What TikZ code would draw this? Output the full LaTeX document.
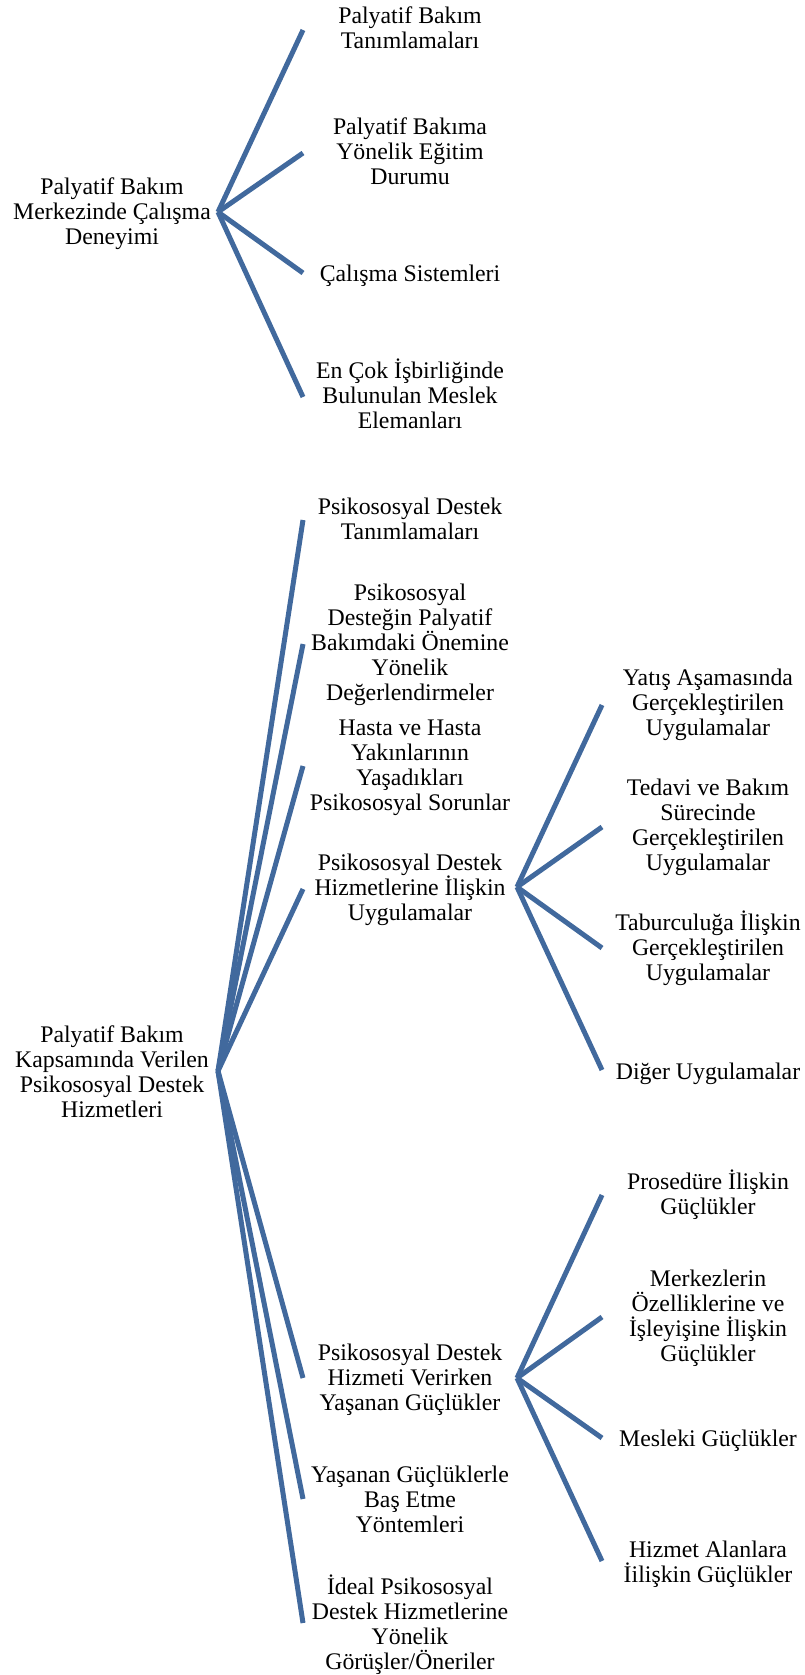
\documentclass[tikz,border=0pt]{standalone}
\usepackage{fontspec}
\setmainfont{Liberation Serif}
\definecolor{branch}{HTML}{41699D}
\begin{document}
\begin{tikzpicture}[x=1pt,y=-1pt,
  lbl/.style={align=center,anchor=base,inner sep=0pt,font=\fontsize{23.8}{25}\selectfont},
  conn/.style={draw=branch,line width=5pt,line cap=butt}]
\useasboundingbox (0,0) rectangle (804,1675);
% anchor=base is the baseline of the LAST line of each label
% ---- tree 1
\node[lbl] (root1) at (112,244) {Palyatif Bakım\\Merkezinde Çalışma\\Deneyimi};
\node[lbl] (a1) at (410,49) {Palyatif Bakım\\Tanımlamaları};
\node[lbl] (a2) at (410,184) {Palyatif Bakıma\\Yönelik Eğitim\\Durumu};
\node[lbl] (a3) at (410,281) {Çalışma Sistemleri};
\node[lbl] (a4) at (410,428) {En Çok İşbirliğinde\\Bulunulan Meslek\\Elemanları};
\coordinate (r1) at (218,212);
\coordinate (e1) at (303,30);
\coordinate (e2) at (303,153);
\coordinate (e3) at (303,273);
\coordinate (e4) at (303,397);
\foreach \e in {e1,e2,e3,e4} \draw[conn] (r1) -- (\e);
% ---- tree 2
\node[lbl] (root2) at (112,1117) {Palyatif Bakım\\Kapsamında Verilen\\Psikososyal Destek\\Hizmetleri};
\node[lbl] (b1) at (410,539) {Psikososyal Destek\\Tanımlamaları};
\node[lbl] (b2) at (410,700) {Psikososyal\\Desteğin Palyatif\\Bakımdaki Önemine\\Yönelik\\Değerlendirmeler};
\node[lbl] (b3) at (410,810) {Hasta ve Hasta\\Yakınlarının\\Yaşadıkları\\Psikososyal Sorunlar};
\node[lbl] (b4) at (410,920) {Psikososyal Destek\\Hizmetlerine İlişkin\\Uygulamalar};
\node[lbl] (b5) at (410,1410) {Psikososyal Destek\\Hizmeti Verirken\\Yaşanan Güçlükler};
\node[lbl] (b6) at (410,1532) {Yaşanan Güçlüklerle\\Baş Etme\\Yöntemleri};
\node[lbl] (b7) at (410,1669) {İdeal Psikososyal\\Destek Hizmetlerine\\Yönelik\\Görüşler/Öneriler};
\coordinate (r2) at (218,1071);
\coordinate (f1) at (303,520);
\coordinate (f2) at (303,644);
\coordinate (f3) at (303,766);
\coordinate (f4) at (303,889);
\coordinate (f5) at (303,1378);
\coordinate (f6) at (303,1499);
\coordinate (f7) at (303,1623);
\foreach \e in {f1,f2,f3,f4,f5,f6,f7} \draw[conn] (r2) -- (\e);
% ---- subtree of b4
\node[lbl] (c1) at (708,735) {Yatış Aşamasında\\Gerçekleştirilen\\Uygulamalar};
\node[lbl] (c2) at (708,870) {Tedavi ve Bakım\\Sürecinde\\Gerçekleştirilen\\Uygulamalar};
\node[lbl] (c3) at (708,980) {Taburculuğa İlişkin\\Gerçekleştirilen\\Uygulamalar};
\node[lbl] (c4) at (708,1079) {Diğer Uygulamalar};
\coordinate (s1) at (517,887);
\coordinate (g1) at (602,705);
\coordinate (g2) at (602,827);
\coordinate (g3) at (602,948);
\coordinate (g4) at (602,1070);
\foreach \e in {g1,g2,g3,g4} \draw[conn] (s1) -- (\e);
% ---- subtree of b5
\node[lbl] (d1) at (708,1214) {Prosedüre İlişkin\\Güçlükler};
\node[lbl] (d2) at (708,1361) {Merkezlerin\\Özelliklerine ve\\İşleyişine İlişkin\\Güçlükler};
\node[lbl] (d3) at (708,1446) {Mesleki Güçlükler};
\node[lbl] (d4) at (708,1582) {Hizmet Alanlara\\İilişkin Güçlükler};
\coordinate (s2) at (517,1378);
\coordinate (h1) at (602,1195);
\coordinate (h2) at (602,1317);
\coordinate (h3) at (602,1438);
\coordinate (h4) at (602,1561);
\foreach \e in {h1,h2,h3,h4} \draw[conn] (s2) -- (\e);
\end{tikzpicture}
\end{document}
